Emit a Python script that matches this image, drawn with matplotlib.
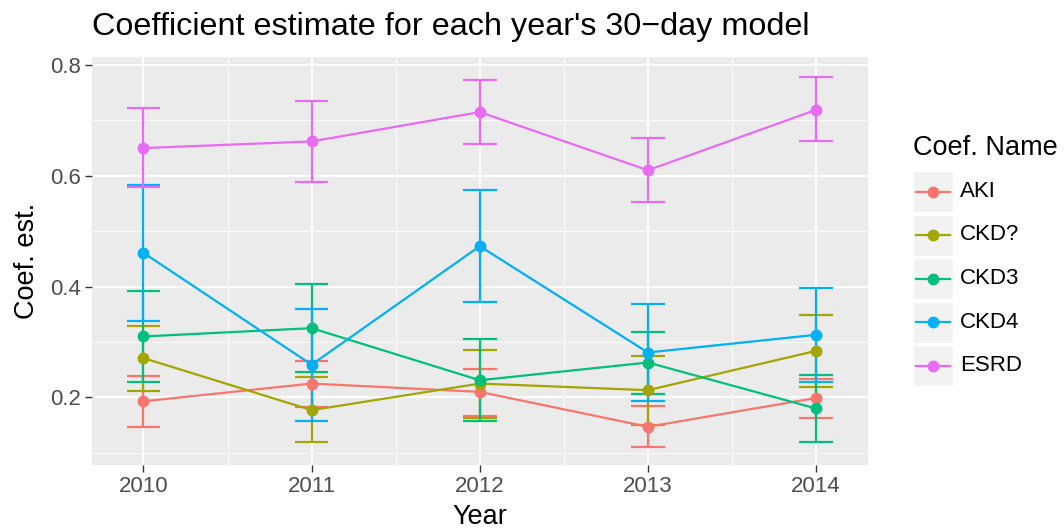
import matplotlib
matplotlib.use("Agg")
import matplotlib.pyplot as plt
from matplotlib.patches import Rectangle
from matplotlib.lines import Line2D

plt.rcParams['font.family'] = ['Liberation Sans', 'DejaVu Sans']

years = [2010, 2011, 2012, 2013, 2014]
names = ["AKI", "CKD?", "CKD3", "CKD4", "ESRD"]
colors = ["#F8766D", "#A3A500", "#00BF7D", "#00B0F6", "#E76BF3"]

est = {
    "AKI":  [0.193, 0.225, 0.210, 0.147, 0.199],
    "CKD?": [0.271, 0.177, 0.225, 0.213, 0.284],
    "CKD3": [0.310, 0.325, 0.231, 0.263, 0.180],
    "CKD4": [0.461, 0.259, 0.473, 0.281, 0.313],
    "ESRD": [0.650, 0.662, 0.715, 0.610, 0.719],
}
upper = {
    "AKI":  [0.239, 0.266, 0.251, 0.185, 0.234],
    "CKD?": [0.329, 0.236, 0.285, 0.274, 0.349],
    "CKD3": [0.392, 0.404, 0.305, 0.318, 0.240],
    "CKD4": [0.583, 0.360, 0.574, 0.368, 0.397],
    "ESRD": [0.722, 0.735, 0.772, 0.668, 0.778],
}
lower = {
    "AKI":  [0.146, 0.182, 0.167, 0.110, 0.163],
    "CKD?": [0.212, 0.120, 0.163, 0.151, 0.218],
    "CKD3": [0.228, 0.245, 0.158, 0.207, 0.119],
    "CKD4": [0.338, 0.158, 0.372, 0.194, 0.227],
    "ESRD": [0.580, 0.589, 0.658, 0.552, 0.662],
}
yticks = [0.2, 0.4, 0.6, 0.8]
ytick_labels = ["0.2", "0.4", "0.6", "0.8"]

W, H = 1064, 532
fig = plt.figure(figsize=(W / 100, H / 100), dpi=100)
L, R, T, B = 92, 868, 57, 465
ax = fig.add_axes([L / W, 1 - B / H, (R - L) / W, (B - T) / H])
ax.set_facecolor("#EBEBEB")
ax.set_xlim(2009.694, 2014.309)
ax.set_ylim(0.078, 0.8144)
for s in ax.spines.values():
    s.set_visible(False)

# grid
for y in [0.1, 0.3, 0.5, 0.7]:
    ax.axhline(y, color="white", lw=0.6, zorder=0.5)
for y in yticks:
    ax.axhline(y, color="white", lw=1.3, zorder=0.6)
for x in [2010.5, 2011.5, 2012.5, 2013.5]:
    ax.axvline(x, color="white", lw=0.6, zorder=0.5)
for x in years:
    ax.axvline(x, color="white", lw=1.3, zorder=0.6)

capw = 0.1
for n, c in zip(names, colors):
    lo = lower[n]
    hi = upper[n]
    ax.vlines(years, lo, hi, color=c, lw=1.6, zorder=2)
    ax.hlines(lo, [x - capw for x in years], [x + capw for x in years], color=c, lw=1.6, zorder=2)
    ax.hlines(hi, [x - capw for x in years], [x + capw for x in years], color=c, lw=1.6, zorder=2)
    ax.plot(years, est[n], color=c, lw=1.6, zorder=3)
    ax.plot(years, est[n], 'o', color=c, ms=7.5, zorder=4)

ax.set_xticks(years)
ax.set_xticklabels([str(y) for y in years])
ax.set_yticks(yticks)
ax.set_yticklabels(ytick_labels)
ax.tick_params(axis="both", colors="#333333", length=5, width=1.0, labelsize=16, labelcolor="#4D4D4D", pad=3)
ax.set_xlabel("Year", fontsize=19.5, labelpad=5)
ax.set_ylabel("Coef. est.", fontsize=19.5, labelpad=7)

fig.text(L / W, 1 - 27 / H, "Coefficient estimate for each year's 30\u2212day model",
         fontsize=23.3, ha="left", va="center")

# legend
lax = fig.add_axes([0, 0, 1, 1])
lax.set_xlim(0, W)
lax.set_ylim(H, 0)
lax.axis("off")
lax.text(913, 148, "Coef. Name", fontsize=19.5, ha="left", va="center")
ys = [191.5, 235, 278.5, 322, 365.5]
for n, c, yy in zip(names, colors, ys):
    lax.add_patch(Rectangle((913, yy - 20.5), 40, 41, facecolor="#F2F2F2", edgecolor="white", lw=1))
    lax.add_line(Line2D([916, 950], [yy, yy], color=c, lw=1.6))
    lax.plot([933], [yy], 'o', color=c, ms=7.5)
    lax.text(960, yy, n, fontsize=16, ha="left", va="center")

fig.savefig("out.png", dpi=100)
